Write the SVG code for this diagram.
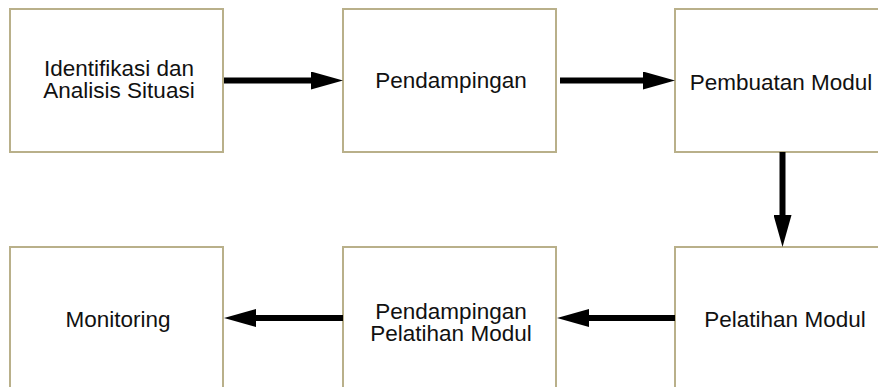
<svg xmlns="http://www.w3.org/2000/svg" width="878" height="387" viewBox="0 0 878 387">
  <style>
    .box { fill: #ffffff; stroke: #b9b08a; stroke-width: 2; }
    .label { font-family: "Liberation Sans", Arial, sans-serif; font-size: 22.5px; fill: #111111; text-anchor: middle; }
    .flow { stroke: #000000; stroke-width: 6; fill: none; marker-end: url(#head); }
  </style>
  <defs>
    <marker id="head" viewBox="0 0 32 18" refX="1" refY="9" markerWidth="32" markerHeight="18" markerUnits="userSpaceOnUse" orient="auto">
      <path d="M0,0 L32,9 L0,18 Z" fill="#000000"/>
    </marker>
  </defs>
  <rect width="878" height="387" fill="#ffffff"/>

  <g id="node-identifikasi">
    <rect class="box" x="10" y="9" width="213" height="143"/>
    <text class="label" x="119" y="76">Identifikasi dan</text>
    <text class="label" x="119" y="98">Analisis Situasi</text>
  </g>
  <g id="node-pendampingan">
    <rect class="box" x="343" y="9" width="213" height="143"/>
    <text class="label" x="451" y="88">Pendampingan</text>
  </g>
  <g id="node-pembuatan-modul">
    <rect class="box" x="675" y="9" width="213" height="143"/>
    <text class="label" x="781" y="90">Pembuatan Modul</text>
  </g>
  <g id="node-pelatihan-modul">
    <rect class="box" x="675" y="247" width="213" height="143"/>
    <text class="label" x="785" y="327">Pelatihan Modul</text>
  </g>
  <g id="node-pendampingan-pelatihan">
    <rect class="box" x="343" y="247" width="213" height="143"/>
    <text class="label" x="451" y="319">Pendampingan</text>
    <text class="label" x="451" y="341">Pelatihan Modul</text>
  </g>
  <g id="node-monitoring">
    <rect class="box" x="10" y="247" width="213" height="143"/>
    <text class="label" x="118" y="327">Monitoring</text>
  </g>

  <g id="connectors">
    <line class="flow" x1="224" y1="80.5" x2="312" y2="80.5"/>
    <line class="flow" x1="560" y1="80.5" x2="644" y2="80.5"/>
    <line class="flow" x1="782.5" y1="152" x2="782.5" y2="216"/>
    <line class="flow" x1="675" y1="318" x2="588" y2="318"/>
    <line class="flow" x1="343" y1="318" x2="255" y2="318"/>
  </g>
</svg>
